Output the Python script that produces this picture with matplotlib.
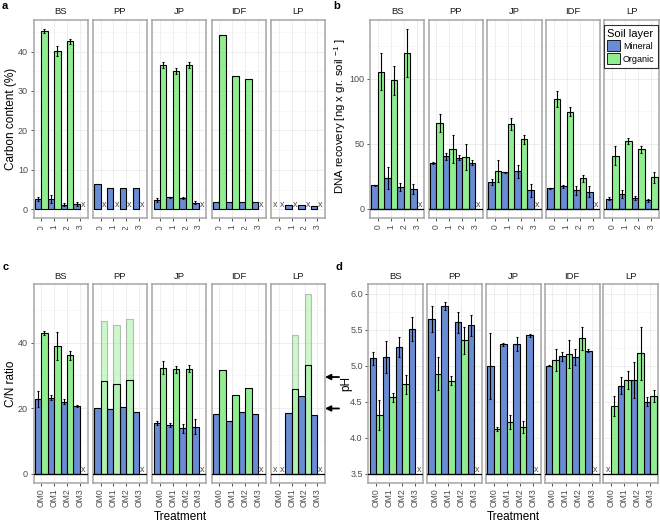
import numpy as np
import matplotlib
matplotlib.use("Agg")
import matplotlib.pyplot as plt
from matplotlib.patches import Patch, Rectangle

plt.rcParams['font.family'] = ['Liberation Sans', 'DejaVu Sans']
plt.rcParams['mathtext.fontset'] = 'custom'
plt.rcParams['mathtext.rm'] = 'Liberation Sans'
plt.rcParams['mathtext.it'] = 'Liberation Sans:italic'

nan = np.nan
sites = ['BS', 'PP', 'JP', 'IDF', 'LP']
treatments = ['OM0', 'OM1', 'OM2', 'OM3']
layers = ['Mineral', 'Organic']

# ---- a: carbon content (%)
carbon_mineral = [[2.5, 2.7, 1.2, 1.4], [6.3, 5.4, 5.3, 5.3], [2.4, 3.0, 2.8, 1.7],
                  [1.9, 1.9, 1.9, 1.9], [nan, 1.1, 1.1, 0.8]]
carbon_mineral_err = [[0.5, 1.0, 0.3, 0.5], [0, 0, 0, 0], [0.5, 0.2, 0.2, 0.3],
                      [0, 0, 0, 0], [0, 0, 0, 0]]
carbon_organic = [[45.3, 40.2, 42.6, nan], [nan, nan, nan, nan], [36.5, 35.0, 36.6, nan],
                  [44.2, 33.8, 33.1, nan], [nan, nan, nan, nan]]
carbon_organic_err = [[0.5, 1.3, 0.7, 0], [0, 0, 0, 0], [0.8, 0.7, 0.7, 0],
                      [0, 0, 0, 0], [0, 0, 0, 0]]

# ---- b: DNA recovery
dna_mineral = [[17.9, 23.7, 16.8, 15.3], [35.2, 40.1, 39.3, 35.2], [20.2, 27.8, 28.6, 14.0],
               [15.6, 17.1, 14.0, 13.0], [7.7, 11.5, 7.9, 6.4]]
dna_mineral_err = [[0.5, 8.3, 3.2, 3.8], [1.0, 2.5, 2.0, 2.0], [2.3, 0.5, 4.8, 5.0],
                   [0.5, 1.0, 3.5, 4.3], [1.0, 3.0, 1.5, 1.0]]
dna_organic = [[105.4, 98.7, 119.4, nan], [66.1, 45.9, 39.8, nan], [28.6, 65.0, 53.3, nan],
               [84.4, 74.5, 23.2, nan], [40.6, 52.3, 45.7, 24.2]]
dna_organic_err = [[14, 11, 18.5, 0], [7, 11, 10, 0], [8.5, 4.5, 3.3, 0],
                   [6.3, 3.3, 3.0, 0], [7.4, 2.3, 2.7, 4.3]]

# ---- c: C/N ratio
cn_mineral = [[22.8, 23.2, 22.0, 20.8], [20.2, 19.6, 20.5, 18.9], [15.5, 14.8, 13.8, 14.4],
              [18.1, 16.2, 18.7, 18.1], [nan, 18.5, 23.8, 17.8]]
cn_mineral_err = [[2.5, 0.8, 0.7, 0.3], [0, 0, 0, 0], [0.5, 0.7, 1.5, 2.4],
                  [0, 0, 0, 0], [0, 0, 0, 0]]
cn_organic = [[42.8, 38.9, 36.1, nan], [nan, nan, nan, nan], [32.4, 31.8, 32.1, nan],
              [31.7, 24.0, 26.3, nan], [nan, nan, nan, nan]]
cn_organic_err = [[0.6, 4.2, 1.4, 0], [0, 0, 0, 0], [2.1, 1.0, 1.0, 0],
                  [0, 0, 0, 0], [0, 0, 0, 0]]
cn_organic_low = [[nan] * 4, [28.3, 27.5, 28.7, nan], [nan] * 4, [nan] * 4, [nan, 25.8, 33.3, nan]]
cn_organic_high = [[nan] * 4, [46.6, 45.4, 47.3, nan], [nan] * 4, [nan] * 4, [nan, 42.3, 54.7, nan]]
cn_arrows = [29.5, 19.9]

# ---- d: pH
ph_mineral = [[5.10, 5.12, 5.26, 5.51], [5.65, 5.83, 5.60, 5.56], [5.00, 5.30, 5.30, 5.42],
              [5.00, 5.13, 5.12, 5.21], [nan, 4.72, 4.80, 4.50]]
ph_mineral_err = [[0.09, 0.22, 0.14, 0.165], [0.18, 0.05, 0.15, 0.15], [0.46, 0.02, 0.10, 0.02],
                  [0.01, 0.06, 0.11, 0.02], [0, 0.12, 0.25, 0.06]]
ph_organic = [[4.32, 4.56, 4.74, nan], [4.89, 4.79, 5.35, nan], [4.125, 4.22, 4.15, nan],
              [5.08, 5.16, 5.38, nan], [4.44, 4.80, 5.17, 4.58]]
ph_organic_err = [[0.21, 0.06, 0.13, 0], [0.23, 0.06, 0.19, 0], [0.03, 0.10, 0.08, 0],
                  [0.15, 0.19, 0.16, 0], [0.14, 0.12, 0.37, 0.085]]

C_MIN = '#6A8CD4'
C_ORG = '#90EE90'
W, H = 660, 522
fig = plt.figure(figsize=(W / 100, H / 100), dpi=100)


def add_ax(left, top, w, h):
    return fig.add_axes([left / W, 1 - (top + h) / H, w / W, h / H])


def draw_panel(lefts, width, top, bottom, mineral, mineral_err, organic, organic_err,
               ylim, yticks, yticklabels, minor, base, hline, low=None, high=None):
    axes = []
    for s, site in enumerate(sites):
        ax = add_ax(lefts[s], top, width, bottom - top)
        axes.append(ax)
        x = np.arange(len(treatments))
        m = np.array(mineral[s], float)
        me = np.array(mineral_err[s], float)
        o = np.array(organic[s], float)
        oe = np.array(organic_err[s], float)
        xm = x - 0.25
        xo = x + 0.25
        ax.bar(xm, m - base, bottom=base, width=0.5, color=C_MIN, edgecolor='black', linewidth=0.8, zorder=3)
        ax.bar(xo, o - base, bottom=base, width=0.5, color=C_ORG, edgecolor='black', linewidth=0.8, zorder=3)
        has_light = np.zeros(len(x), bool)
        if high is not None:
            hi = np.array(high[s], float)
            lo = np.array(low[s], float)
            has_light = ~np.isnan(hi)
            ax.bar(xo, hi - base, bottom=base, width=0.5, color=C_ORG, alpha=0.45,
                   edgecolor='#777777', linewidth=0.8, zorder=3)
            ax.bar(xo, lo - base, bottom=base, width=0.5, facecolor=(0.565, 0.933, 0.565, 0.45),
                   edgecolor='black', linewidth=0.8, zorder=3)
        for xx, v, e in zip(xm, m, me):
            if not np.isnan(v) and e > 0:
                ax.errorbar(xx, v, yerr=e, fmt='none', ecolor='black', elinewidth=0.8,
                            capsize=1, capthick=0.8, zorder=4)
        for xx, v, e in zip(xo, o, oe):
            if not np.isnan(v) and e > 0:
                ax.errorbar(xx, v, yerr=e, fmt='none', ecolor='black', elinewidth=0.8,
                            capsize=1, capthick=0.8, zorder=4)
        for xx, v in zip(xm, m):
            if np.isnan(v):
                ax.text(xx, base, 'x', ha='center', va='bottom', fontsize=6.5, color='#4D4D4D', zorder=5)
        for xx, v, hl in zip(xo, o, has_light):
            if np.isnan(v) and not hl:
                ax.text(xx, base, 'x', ha='center', va='bottom', fontsize=6.5, color='#4D4D4D', zorder=5)
        if hline:
            ax.axhline(base, color='black', lw=0.9, zorder=4)
        ax.set_xlim(-0.6, 3.6)
        ax.set_ylim(*ylim)
        ax.set_xticks(x)
        ax.set_xticklabels(treatments, rotation=90, fontsize=6.2, color='#4D4D4D')
        ax.set_yticks(yticks)
        ax.set_yticks(minor, minor=True)
        ax.tick_params(axis='y', which='minor', length=0)
        ax.tick_params(axis='both', which='major', length=2.5, width=0.6, color='#333333', pad=1.5)
        if s == 0:
            ax.set_yticklabels(yticklabels, fontsize=6.5, color='#4D4D4D')
        else:
            ax.tick_params(axis='y', which='both', left=False, labelleft=False)
        ax.grid(True, which='major', color='#EBEBEB', lw=0.6, zorder=0)
        ax.grid(True, which='minor', axis='y', color='#F4F4F4', lw=0.4, zorder=0)
        ax.set_axisbelow(True)
        for sp in ax.spines.values():
            sp.set_color('#A6A6A6')
            sp.set_linewidth(1.1)
        ax.set_title(site, fontsize=6.8, color='#1A1A1A', pad=4)
    return axes


lefts_left = [33.5 + 59.4 * i for i in range(5)]
lefts_b = [370 + 58.6 * i for i in range(5)]
lefts_d = [368.3 + 58.75 * i for i in range(5)]

axa = draw_panel(lefts_left, 54, 20, 218.3, carbon_mineral, carbon_mineral_err, carbon_organic,
                 carbon_organic_err, (-2.3, 48.0), [0, 10, 20, 30, 40], ['0', '10', '20', '30', '40'],
                 [5, 15, 25, 35, 45], 0, False)
axb = draw_panel(lefts_b, 54.5, 20, 218, dna_mineral, dna_mineral_err, dna_organic, dna_organic_err,
                 (-7.2, 145), [0, 50, 100], ['0', '50', '100'], [25, 75, 125], 0, True)
axc = draw_panel(lefts_left, 54, 284.3, 482.7, cn_mineral, cn_mineral_err, cn_organic, cn_organic_err,
                 (-2.75, 57.8), [0, 20, 40], ['0', '20', '40'], [10, 30, 50], 0, True,
                 low=cn_organic_low, high=cn_organic_high)
axd = draw_panel(lefts_d, 55, 284.3, 482.7, ph_mineral, ph_mineral_err, ph_organic, ph_organic_err,
                 (3.375, 6.13), [3.5, 4.0, 4.5, 5.0, 5.5, 6.0], ['3.5', '4.0', '4.5', '5.0', '5.5', '6.0'],
                 [3.75, 4.25, 4.75, 5.25, 5.75], 3.5, True)

# white band hiding lower part of top-row tick labels
fig.patches.append(Rectangle((0, 1 - 262 / H), 1, (262 - 230) / H, transform=fig.transFigure,
                             facecolor='white', edgecolor='none', zorder=1))

# arrows pointing to panel c
ax_last = axc[-1]
for v in cn_arrows:
    yfig = ax_last.transData.transform((0, v))[1]
    ax_last.annotate('', xy=(325, yfig), xycoords='figure pixels', xytext=(339, yfig),
                     textcoords='figure pixels', annotation_clip=False,
                     arrowprops=dict(arrowstyle='-|>', color='black', lw=1.3, mutation_scale=8,
                                     shrinkA=0, shrinkB=0))

# axis titles
fig.text(11 / W, 1 - 119 / H, 'Carbon content (%)', rotation=90, ha='center', va='center', fontsize=8.5)
fig.text(340 / W, 1 - 116 / H, r'DNA recovery [ng x gr. soil $^{\mathrm{-1}}$ ]', rotation=90,
         ha='center', va='center', fontsize=8.2)
fig.text(11 / W, 1 - 383.5 / H, 'C/N ratio', rotation=90, ha='center', va='center', fontsize=8.5)
fig.text(346 / W, 1 - 383.5 / H, 'pH', rotation=90, ha='center', va='center', fontsize=8.5)
fig.text(180 / W, 1 - 517 / H, 'Treatment', ha='center', va='center', fontsize=8.5, zorder=3)
fig.text(513 / W, 1 - 517 / H, 'Treatment', ha='center', va='center', fontsize=8.5, zorder=3)

for lab, (px, py) in zip('abcd', [(2, 6), (333, 6), (3, 267), (336, 267)]):
    fig.text(px / W, 1 - py / H, lab, fontsize=8, fontweight='bold', ha='left', va='center', zorder=3)

handles = [Patch(facecolor=C_MIN, edgecolor='black', linewidth=0.6),
           Patch(facecolor=C_ORG, edgecolor='black', linewidth=0.6)]
leg = fig.legend(handles, layers, title='Soil layer', loc='upper right',
                 bbox_to_anchor=(658 / W, 1 - 25 / H), frameon=True, fancybox=False,
                 fontsize=6.5, title_fontsize=8.0, handlelength=1.4, handleheight=1.5,
                 borderpad=0.4, labelspacing=0.2, handletextpad=0.3, borderaxespad=0)
leg.get_frame().set_edgecolor('black')
leg.get_frame().set_linewidth(0.8)
leg._legend_box.align = 'left'
leg.set_zorder(5)

fig.savefig('out.png', dpi=100)
